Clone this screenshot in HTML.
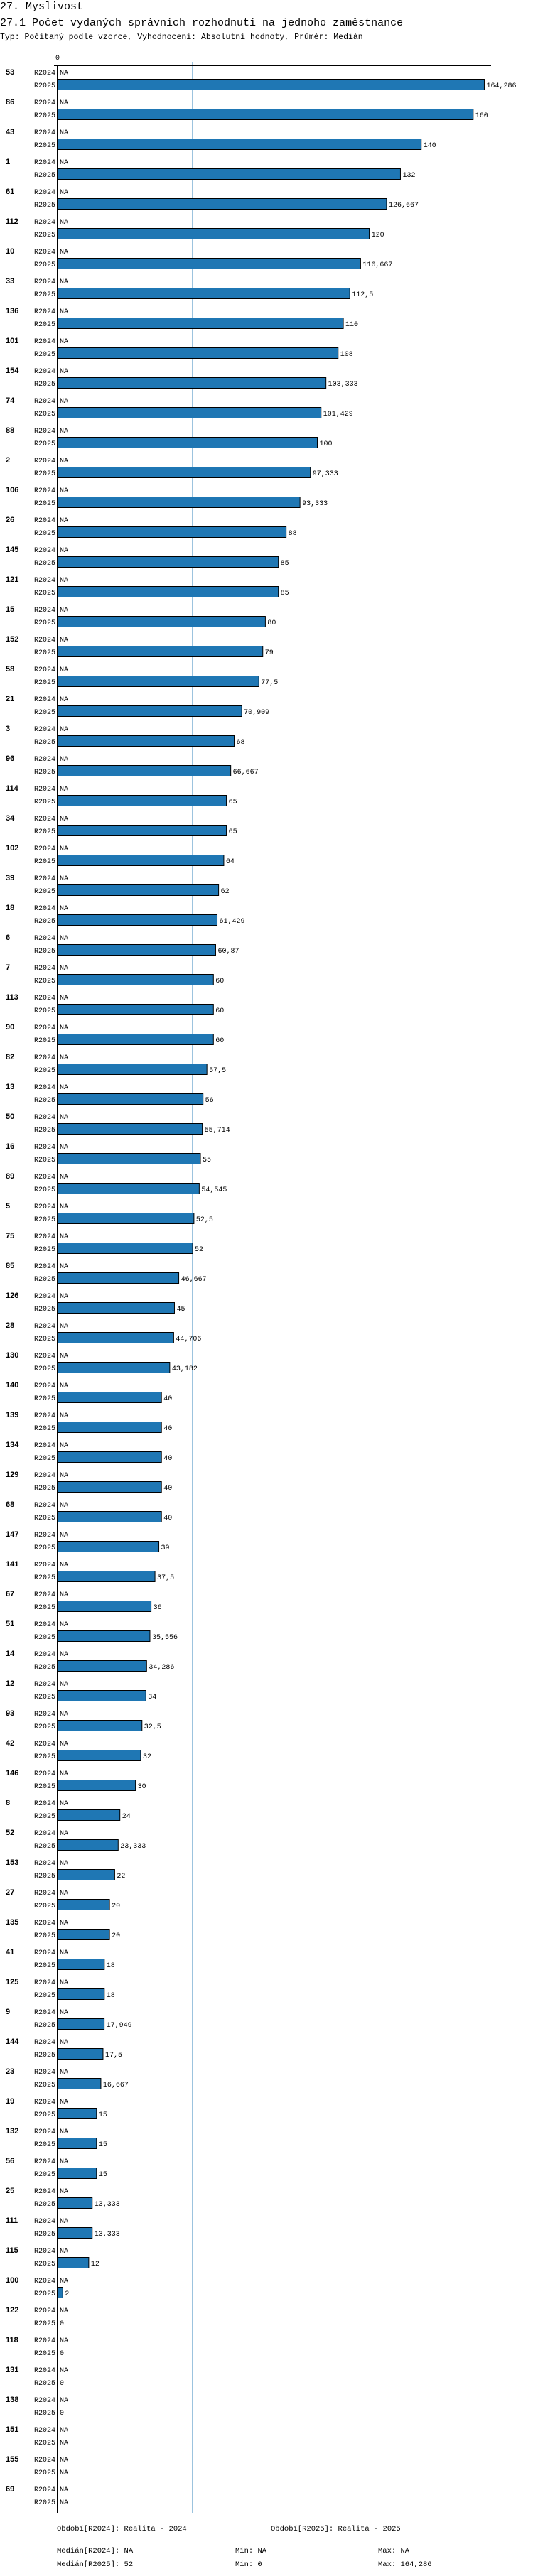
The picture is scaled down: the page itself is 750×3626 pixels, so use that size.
<!DOCTYPE html>
<html><head><meta charset="utf-8">
<style>
html,body{margin:0;padding:0;background:#fff;width:750px;height:3626px;overflow:hidden;}
svg{display:block;}
.t1{font-family:"Liberation Mono",monospace;font-size:15px;fill:#000;}
.t2{font-family:"Liberation Mono",monospace;font-size:11.5px;fill:#000;}
.per{font-family:"Liberation Mono",monospace;font-size:10px;fill:#000;}
.grp{font-family:"Liberation Sans",sans-serif;font-size:11px;font-weight:bold;fill:#000;}
.val{font-family:"Liberation Mono",monospace;font-size:10px;fill:#000;}
.foot{font-family:"Liberation Mono",monospace;font-size:10.5px;fill:#000;}
</style></head><body>
<svg id="chart" width="750" height="3626" xmlns="http://www.w3.org/2000/svg">
<text class="t1" x="0" y="13">27. Myslivost</text>
<text class="t1" x="0" y="36">27.1 Počet vydaných správních rozhodnutí na jednoho zaměstnance</text>
<text class="t2" x="0" y="55">Typ: Počítaný podle vzorce, Vyhodnocení: Absolutní hodnoty, Průměr: Medián</text>
<g id="plot"></g>
<text class="foot" x="80" y="3562">Období[R2024]: Realita - 2024</text>
<text class="foot" x="381" y="3562">Období[R2025]: Realita - 2025</text>
<text class="foot" x="80" y="3593">Medián[R2024]: NA</text>
<text class="foot" x="331" y="3593">Min: NA</text>
<text class="foot" x="532" y="3593">Max: NA</text>
<text class="foot" x="80" y="3612">Medián[R2025]: 52</text>
<text class="foot" x="331" y="3612">Min: 0</text>
<text class="foot" x="532" y="3612">Max: 164,286</text>
</svg>
<script>
const categories = ["53","86","43","1","61","112","10","33","136","101","154","74","88","2","106","26","145","121","15","152","58","21","3","96","114","34","102","39","18","6","7","113","90","82","13","50","16","89","5","75","85","126","28","130","140","139","134","129","68","147","141","67","51","14","12","93","42","146","8","52","153","27","135","41","125","9","144","23","19","132","56","25","111","115","100","122","118","131","138","151","155","69"];
const values2024 = categories.map(() => null);
const values2025 = [164.286,160,140,132,126.667,120,116.667,112.5,110,108,103.333,101.429,100,97.333,93.333,88,85,85,80,79,77.5,70.909,68,66.667,65,65,64,62,61.429,60.87,60,60,60,57.5,56,55.714,55,54.545,52.5,52,46.667,45,44.706,43.182,40,40,40,40,40,39,37.5,36,35.556,34.286,34,32.5,32,30,24,23.333,22,20,20,18,18,17.949,17.5,16.667,15,15,15,13.333,13.333,12,2,0,0,0,0,null,null,null];
const medianValue = 52;
const tickLabels = ["0"];

const NS = "http://www.w3.org/2000/svg";
const plot = document.getElementById('plot');
const x0 = 81, pxPerUnit = 3.655;
const xScale = v => x0 + v * pxPerUnit;
const top0 = 101, pitch = 42;
const yScale = i => top0 + i * pitch;
const fmt = v => String(+v.toFixed(3)).replace('.', ',');
function mk(tag, attrs, text) {
  const e = document.createElementNS(NS, tag);
  for (const k in attrs) e.setAttribute(k, attrs[k]);
  if (text !== undefined) e.textContent = text;
  return e;
}
const lastY = yScale(categories.length - 1) + 34;
// median line
const med = mk('line', {x1: xScale(medianValue), x2: xScale(medianValue), y1: 87, y2: lastY, stroke: '#1f77b4', 'stroke-width': 1});


plot.appendChild(med);
// top axis
const ax = mk('line', {x1: 76, x2: 691, y1: 92.5, y2: 92.5, stroke: '#000', 'stroke-width': 1});


plot.appendChild(ax);
tickLabels.forEach(t => {
  const tl = mk('text', {x: xScale(+t) - 3, y: 84, class: 'val'}, t);
  
  
  plot.appendChild(tl);
});
categories.forEach((c, i) => {
  const y = yScale(i);
  const g = mk('text', {x: 8, y: y + 4, class: 'grp'}, c);
  
  
  plot.appendChild(g);
  [['R2024', values2024[i], y], ['R2025', values2025[i], y + 18]].forEach(([per, v, yy]) => {
    const pl = mk('text', {x: 78, y: yy + 4, class: 'per', 'text-anchor': 'end'}, per);
    
    
    plot.appendChild(pl);
    if (v === null) {
      const na = mk('text', {x: 84, y: yy + 4, class: 'val'}, 'NA');
      
      
      plot.appendChild(na);
    } else {
      const w = xScale(v) - x0;
      if (w > 0) {
        const r = mk('rect', {x: x0, y: yy - 7.5, width: w, height: 15, fill: '#1f77b4', stroke: '#000', 'stroke-width': 1});
        
        
        plot.appendChild(r);
      }
      const vl = mk('text', {x: xScale(v) + 3, y: yy + 4, class: 'val'}, fmt(v));
      
      
      plot.appendChild(vl);
    }
  });
});
// y axis
const ya = mk('line', {x1: x0, x2: x0, y1: 92, y2: lastY, stroke: '#000', 'stroke-width': 2});


plot.appendChild(ya);
</script>
</body></html>
